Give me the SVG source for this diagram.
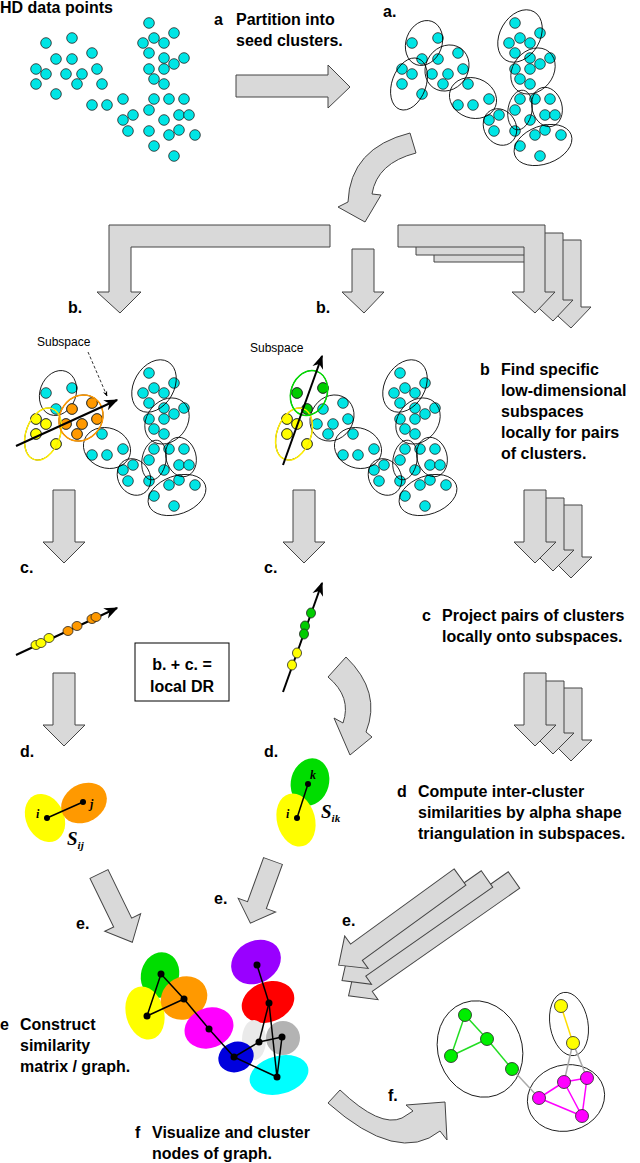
<svg xmlns="http://www.w3.org/2000/svg" xmlns:xlink="http://www.w3.org/1999/xlink" width="640" height="1163" viewBox="0 0 640 1163">
<style>
text{font-family:"Liberation Sans",Arial,sans-serif;font-weight:bold;font-size:16px;fill:#000}
.sm{font-weight:normal;font-size:12px}
.ar{fill:#d9d9d9;stroke:#444;stroke-width:1}
.dot{stroke:#222;stroke-width:0.8}
.c{fill:#00e5e5}
.el{fill:none;stroke:#000;stroke-width:0.8}
.ln{stroke:#000;stroke-width:2;fill:none}
.nd{fill:#000}
</style>
<defs>
<marker id="ah" viewBox="0 0 10 10" refX="9" refY="5" markerWidth="7" markerHeight="7" orient="auto"><path d="M0,1 L10,5 L0,9 L3,5 Z" fill="#000"/></marker>
<g id="pts" class="dot c">
<circle cx="46" cy="43" r="5.3"/><circle cx="72" cy="38" r="5.3"/><circle cx="92" cy="53" r="5.3"/><circle cx="56" cy="59" r="5.3"/><circle cx="72" cy="59" r="5.3"/><circle cx="36" cy="69" r="5.3"/><circle cx="46" cy="74" r="5.3"/><circle cx="66" cy="74" r="5.3"/><circle cx="82" cy="74" r="5.3"/><circle cx="97" cy="69" r="5.3"/><circle cx="36" cy="84" r="5.3"/><circle cx="77" cy="84" r="5.3"/><circle cx="102" cy="84" r="5.3"/><circle cx="56" cy="94" r="5.3"/><circle cx="92" cy="105" r="5.3"/><circle cx="107" cy="105" r="5.3"/><circle cx="123" cy="99" r="5.3"/><circle cx="133" cy="115" r="5.3"/><circle cx="123" cy="120" r="5.3"/><circle cx="128" cy="131" r="5.3"/><circle cx="149" cy="23" r="5.3"/><circle cx="174" cy="33" r="5.3"/><circle cx="154" cy="38" r="5.3"/><circle cx="143" cy="43" r="5.3"/><circle cx="164" cy="43" r="5.3"/><circle cx="149" cy="53" r="5.3"/><circle cx="164" cy="58" r="5.3"/><circle cx="184" cy="58" r="5.3"/><circle cx="174" cy="64" r="5.3"/><circle cx="149" cy="69" r="5.3"/><circle cx="164" cy="69" r="5.3"/><circle cx="154" cy="79" r="5.3"/><circle cx="164" cy="84" r="5.3"/><circle cx="154" cy="99" r="5.3"/><circle cx="169" cy="99" r="5.3"/><circle cx="184" cy="99" r="5.3"/><circle cx="149" cy="110" r="5.3"/><circle cx="179" cy="115" r="5.3"/><circle cx="189" cy="115" r="5.3"/><circle cx="164" cy="120" r="5.3"/><circle cx="149" cy="131" r="5.3"/><circle cx="169" cy="135" r="5.3"/><circle cx="179" cy="130" r="5.3"/><circle cx="195" cy="135" r="5.3"/><circle cx="154" cy="146" r="5.3"/><circle cx="174" cy="156" r="5.3"/>
</g>
<g id="ells" class="el">
<ellipse cx="58" cy="43" rx="18" ry="23" transform="rotate(20 58 43)"/>
<ellipse cx="43" cy="84" rx="17" ry="27" transform="rotate(20 43 84)"/>
<ellipse cx="81" cy="68" rx="21" ry="24" transform="rotate(35 81 68)"/>
<ellipse cx="107" cy="98" rx="24" ry="20" transform="rotate(20 107 98)"/>
<ellipse cx="134" cy="127" rx="16" ry="19" transform="rotate(-30 134 127)"/>
<ellipse cx="154" cy="36" rx="20" ry="28" transform="rotate(30 154 36)"/>
<ellipse cx="167" cy="71" rx="20" ry="25" transform="rotate(40 167 71)"/>
<ellipse cx="154" cy="110" rx="12" ry="20" transform="rotate(10 154 110)"/>
<ellipse cx="181" cy="107" rx="15" ry="20" transform="rotate(-15 181 107)"/>
<ellipse cx="177" cy="145" rx="30" ry="19" transform="rotate(-20 177 145)"/>
</g>
<polygon id="dn" class="ar" points="53,490 75,490 75,542 85,542 64,563 43,542 53,542"/>
<polygon id="diag" class="ar" points="-10,0 10,0 10,-54 20,-54 0,-76 -20,-54 -10,-54" transform="scale(1,-1)"/>
</defs>

<text x="0" y="13">HD data points</text>
<text x="214" y="25">a</text><text x="236" y="25">Partition into</text>
<text x="236" y="46">seed clusters.</text>
<text x="383" y="17">a.</text>

<g id="scatter"><use xlink:href="#pts"/></g>
<g id="seeds" transform="translate(366,0)"><use xlink:href="#pts"/><use xlink:href="#ells"/></g>

<g id="connectors">
<polygon class="ar" points="236,75 328,75 328,65 350,87 328,108 328,97 236,97"/>
<path class="ar" d="M410,133 L416,153 Q377,163 372,194 L381,195 L365,222 L338,207 L348,202 Q350,148 410,133 Z"/>
<polygon class="ar" points="109,225 330,225 330,247 131,247 131,292 141,292 120,313 97,292 109,292"/>
<polygon class="ar" points="352,249 374,249 374,292 384,292 364,313 342,292 352,292"/>
<g id="rstack">
<polygon class="ar" transform="translate(36,15)" points="398,225 545,225 545,292 555,292 535,313 512,292 524,292 524,247 398,247"/>
<polygon class="ar" transform="translate(18,8)" points="398,225 545,225 545,292 555,292 535,313 512,292 524,292 524,247 398,247"/>
<polygon class="ar" points="398,225 545,225 545,292 555,292 535,313 512,292 524,292 524,247 398,247"/>
</g>
<use xlink:href="#dn"/>
<use xlink:href="#dn" transform="translate(240,0)"/>
<use xlink:href="#dn" transform="translate(507,15)"/><use xlink:href="#dn" transform="translate(489,8)"/><use xlink:href="#dn" transform="translate(471,0)"/>
<use xlink:href="#dn" transform="translate(0,183)"/>
<use xlink:href="#dn" transform="translate(507,198)"/><use xlink:href="#dn" transform="translate(489,191)"/><use xlink:href="#dn" transform="translate(471,183)"/>
<path class="ar" d="M328,677 L346,657 Q382,692 366,732 L372,737 L350,755 L334,718 L343,723 Q352,697 328,677 Z"/>
<use xlink:href="#diag" transform="translate(99,874) rotate(-26)"/>
<use xlink:href="#diag" transform="translate(273,861) rotate(20) scale(1,0.87)"/>
<polygon class="ar" transform="translate(514,880) rotate(55)" points="-10,0 10,0 10,180 20,180 0,202 -20,180 -10,180"/>
<polygon class="ar" transform="translate(487,879) rotate(55)" points="-10,0 10,0 10,155 20,155 0,177 -20,155 -10,155"/>
<polygon class="ar" transform="translate(460,877) rotate(54)" points="-10,0 10,0 10,128 20,128 0,150 -20,128 -10,128"/>
<path class="ar" d="M340,1090 Q380,1128 402,1118 L413,1111 L406,1105 L445,1102 L447,1140 L440,1131 Q398,1165 328,1103 Z"/>
</g>

<text x="68" y="313">b.</text><text x="316" y="313">b.</text>

<g id="bleft" transform="translate(0,350)">
<use xlink:href="#pts"/><use xlink:href="#ells"/>
<g class="dot" fill="#ffff00"><circle cx="36" cy="69" r="5.3"/><circle cx="46" cy="74" r="5.3"/><circle cx="36" cy="84" r="5.3"/><circle cx="56" cy="94" r="5.3"/></g>
<g class="dot" fill="#ff9900"><circle cx="72" cy="59" r="5.3"/><circle cx="92" cy="53" r="5.3"/><circle cx="66" cy="74" r="5.3"/><circle cx="82" cy="74" r="5.3"/><circle cx="97" cy="69" r="5.3"/><circle cx="77" cy="84" r="5.3"/></g>
<ellipse cx="43" cy="84" rx="17" ry="27" transform="rotate(20 43 84)" fill="none" stroke="#ffee00" stroke-width="1.5"/>
<ellipse cx="81" cy="68" rx="21" ry="24" transform="rotate(35 81 68)" fill="none" stroke="#ff9900" stroke-width="1.5"/>
</g>
<line x1="16" y1="446" x2="117" y2="400" class="ln" stroke-width="1.5" marker-end="url(#ah)"/>
<text class="sm" x="37" y="346">Subspace</text>
<line x1="88" y1="352" x2="107" y2="396" stroke="#000" stroke-width="0.8" stroke-dasharray="3,2" marker-end="url(#ah)"/>

<g id="bmid" transform="translate(251,350)">
<use xlink:href="#pts"/><use xlink:href="#ells"/>
<g class="dot" fill="#ffff00"><circle cx="36" cy="69" r="5.3"/><circle cx="46" cy="74" r="5.3"/><circle cx="36" cy="84" r="5.3"/><circle cx="56" cy="94" r="5.3"/></g>
<g class="dot" fill="#00cc00"><circle cx="46" cy="43" r="5.3"/><circle cx="72" cy="38" r="5.3"/><circle cx="56" cy="59" r="5.3"/></g>
<ellipse cx="43" cy="84" rx="17" ry="27" transform="rotate(20 43 84)" fill="none" stroke="#ffee00" stroke-width="1.5"/>
<ellipse cx="58" cy="43" rx="18" ry="23" transform="rotate(20 58 43)" fill="none" stroke="#00dd00" stroke-width="1.5"/>
</g>
<line x1="283" y1="465" x2="322" y2="356" class="ln" stroke-width="1.5" marker-end="url(#ah)"/>
<text class="sm" x="250" y="352">Subspace</text>

<text x="480" y="375">b</text>
<text x="501" y="375">Find specific</text>
<text x="501" y="396">low-dimensional</text>
<text x="501" y="417">subspaces</text>
<text x="501" y="438">locally for pairs</text>
<text x="501" y="459">of clusters.</text>

<text x="20" y="573">c.</text><text x="264" y="573">c.</text>
<text x="422" y="621">c</text><text x="442" y="621">Project pairs of clusters</text>
<text x="442" y="642">locally onto subspaces.</text>

<g id="projL">
<line x1="16" y1="655" x2="117" y2="608" class="ln" stroke-width="1.5" marker-end="url(#ah)"/>
<g class="dot" fill="#ffff00"><ellipse cx="36" cy="645" rx="5" ry="4.5"/><ellipse cx="41" cy="643" rx="5" ry="4.5"/><ellipse cx="49" cy="638" rx="5" ry="4.5"/></g>
<g class="dot" fill="#ff9900"><ellipse cx="68" cy="631" rx="5" ry="4.5"/><ellipse cx="77" cy="626" rx="5" ry="4.5"/><ellipse cx="92" cy="619" rx="5" ry="4.5"/><ellipse cx="96" cy="617" rx="5" ry="4.5"/></g>
</g>
<g id="projM">
<line x1="283" y1="692" x2="322" y2="583" class="ln" stroke-width="1.5" marker-end="url(#ah)"/>
<g class="dot" fill="#00cc00"><ellipse cx="311" cy="613" rx="4.5" ry="5"/><ellipse cx="305" cy="626" rx="4.5" ry="5"/><ellipse cx="304" cy="634" rx="4.5" ry="5"/></g>
<g class="dot" fill="#ffff00"><ellipse cx="297" cy="653" rx="4.5" ry="5"/><ellipse cx="292" cy="665" rx="4.5" ry="5"/></g>
</g>
<g id="box"><rect x="135" y="643" width="94" height="58" fill="#fff" stroke="#000"/>
<text x="182" y="670" text-anchor="middle">b. + c. =</text><text x="182" y="692" text-anchor="middle">local DR</text></g>

<text x="20" y="757">d.</text><text x="264" y="757">d.</text>
<text x="397" y="797">d</text><text x="418" y="797">Compute inter-cluster</text>
<text x="418" y="818">similarities by alpha shape</text>
<text x="418" y="839">triangulation in subspaces.</text>

<g id="sij">
<ellipse cx="45" cy="818" rx="19" ry="25" transform="rotate(-25 45 818)" fill="#ffff00"/>
<ellipse cx="84" cy="803" rx="24" ry="19" transform="rotate(-30 84 803)" fill="#ff9900"/>
<line x1="47" y1="818" x2="83" y2="802" stroke="#000" stroke-width="1.5"/>
<circle cx="47" cy="818" r="3" class="nd"/><circle cx="83" cy="802" r="3" class="nd"/>
<text x="36" y="818" style="font-family:'Liberation Serif',serif;font-style:italic;font-size:12px">i</text>
<text x="90" y="808" style="font-family:'Liberation Serif',serif;font-style:italic;font-size:12px">j</text>
<text x="67" y="845" style="font-family:'Liberation Serif',serif;font-style:italic;font-size:19px">S<tspan font-size="11" dy="4">ij</tspan></text>
</g>
<g id="sik">
<ellipse cx="310" cy="782" rx="19" ry="24" transform="rotate(15 310 782)" fill="#00dd00"/>
<ellipse cx="296" cy="820" rx="19" ry="27" transform="rotate(-15 296 820)" fill="#ffff00"/>
<line x1="297" y1="818" x2="308" y2="784" stroke="#000" stroke-width="1.5"/>
<circle cx="297" cy="818" r="3" class="nd"/><circle cx="308" cy="784" r="3" class="nd"/>
<text x="286" y="818" style="font-family:'Liberation Serif',serif;font-style:italic;font-size:12px">i</text>
<text x="310" y="779" style="font-family:'Liberation Serif',serif;font-style:italic;font-size:12px">k</text>
<text x="321" y="818" style="font-family:'Liberation Serif',serif;font-style:italic;font-size:19px">S<tspan font-size="11" dy="4">ik</tspan></text>
</g>

<text x="76" y="929">e.</text><text x="214" y="904">e.</text><text x="342" y="926">e.</text>

<g id="simgraph">
<ellipse cx="256" cy="962" rx="26" ry="21" transform="rotate(-30 256 962)" fill="#9900ff"/>
<ellipse cx="268" cy="1002" rx="27" ry="20" transform="rotate(-20 268 1002)" fill="#ff0000"/>
<ellipse cx="254" cy="1040" rx="12" ry="20" fill="#eaeaea"/>
<ellipse cx="283" cy="1038" rx="17" ry="17" fill="#b3b3b3"/>
<ellipse cx="279" cy="1075" rx="30" ry="19" transform="rotate(-15 279 1075)" fill="#00ffff"/>
<ellipse cx="160" cy="975" rx="19" ry="23" transform="rotate(15 160 975)" fill="#00dd00"/>
<ellipse cx="145" cy="1013" rx="19" ry="27" transform="rotate(-15 145 1013)" fill="#ffff00"/>
<ellipse cx="184" cy="998" rx="24" ry="21" transform="rotate(-30 184 998)" fill="#ff9900"/>
<ellipse cx="209" cy="1028" rx="25" ry="20" transform="rotate(-20 209 1028)" fill="#ff00ff"/>
<ellipse cx="236" cy="1057" rx="18" ry="15" transform="rotate(-20 236 1057)" fill="#0000dd"/>
<g stroke="#000" stroke-width="1.5">
<line x1="161" y1="974" x2="147" y2="1016"/><line x1="161" y1="974" x2="184" y2="999"/><line x1="147" y1="1016" x2="184" y2="999"/>
<line x1="184" y1="999" x2="209" y2="1029"/><line x1="209" y1="1029" x2="234" y2="1057"/>
<line x1="234" y1="1057" x2="259" y2="1042"/><line x1="234" y1="1057" x2="277" y2="1077"/>
<line x1="259" y1="1042" x2="282" y2="1037"/><line x1="282" y1="1037" x2="277" y2="1077"/>
<line x1="257" y1="965" x2="269" y2="1003"/><line x1="269" y1="1003" x2="259" y2="1042"/><line x1="269" y1="1003" x2="277" y2="1077"/>
</g>
<g class="nd"><circle cx="161" cy="974" r="3.5"/><circle cx="147" cy="1016" r="3.5"/><circle cx="184" cy="999" r="3.5"/><circle cx="209" cy="1029" r="3.5"/><circle cx="234" cy="1057" r="3.5"/><circle cx="259" cy="1042" r="3.5"/><circle cx="282" cy="1037" r="3.5"/><circle cx="277" cy="1077" r="3.5"/><circle cx="269" cy="1003" r="3.5"/><circle cx="257" cy="965" r="3.5"/></g>
</g>

<text x="0" y="1030">e</text><text x="20" y="1030">Construct</text>
<text x="20" y="1051">similarity</text>
<text x="20" y="1072">matrix / graph.</text>

<text x="388" y="1101">f.</text>
<text x="135" y="1138">f</text><text x="152" y="1138">Visualize and cluster</text>
<text x="152" y="1159">nodes of graph.</text>

<g id="final">
<ellipse cx="480" cy="1049" rx="42" ry="49" transform="rotate(-20 480 1049)" class="el"/>
<ellipse cx="569" cy="1024" rx="19" ry="32" transform="rotate(-10 569 1024)" class="el"/>
<ellipse cx="566" cy="1098" rx="39" ry="33" transform="rotate(-15 566 1098)" class="el"/>
<g stroke="#aaa" stroke-width="1.5"><line x1="512" y1="1069" x2="539" y2="1098"/><line x1="573" y1="1043" x2="564" y2="1082"/><line x1="573" y1="1043" x2="587" y2="1078"/></g>
<g stroke="#22dd22" stroke-width="1.5"><line x1="465" y1="1015" x2="487" y2="1039"/><line x1="465" y1="1015" x2="451" y2="1056"/><line x1="451" y1="1056" x2="487" y2="1039"/><line x1="487" y1="1039" x2="512" y2="1069"/></g>
<line x1="561" y1="1006" x2="573" y2="1043" stroke="#ffdd00" stroke-width="1.5"/>
<g stroke="#ff00ff" stroke-width="1.5"><line x1="539" y1="1098" x2="564" y2="1082"/><line x1="564" y1="1082" x2="587" y2="1078"/><line x1="587" y1="1078" x2="582" y2="1116"/><line x1="539" y1="1098" x2="582" y2="1116"/><line x1="564" y1="1082" x2="582" y2="1116"/></g>
<g class="dot" fill="#00ee00"><circle cx="465" cy="1015" r="6.5"/><circle cx="487" cy="1039" r="6.5"/><circle cx="451" cy="1056" r="6.5"/><circle cx="512" cy="1069" r="6.5"/></g>
<g class="dot" fill="#ffff00"><circle cx="561" cy="1006" r="6.5"/><circle cx="573" cy="1043" r="6.5"/></g>
<g class="dot" fill="#ff00ff"><circle cx="564" cy="1082" r="6.5"/><circle cx="587" cy="1078" r="6.5"/><circle cx="539" cy="1098" r="6.5"/><circle cx="582" cy="1116" r="6.5"/></g>
</g>
</svg>
